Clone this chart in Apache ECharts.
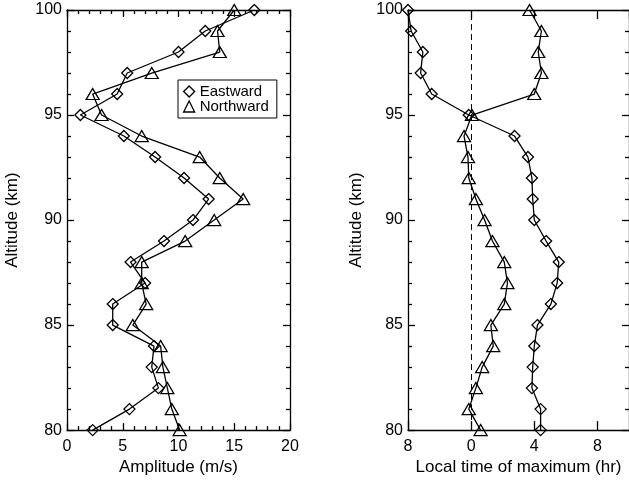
<!DOCTYPE html>
<html>
<head>
<meta charset="utf-8">
<script src="https://cdn.jsdelivr.net/npm/echarts@6/dist/echarts.min.js"></script>
<style>
html,body{margin:0;padding:0;background:#fff;}
#chart{width:629px;height:481px;}
</style>
</head>
<body>
<div id="chart"></div>
<script>
// Altitudes (km), bottom to top
var altitudes = [80,81,82,83,84,85,86,87,88,89,90,91,92,93,94,95,96,97,98,99,100];
// Amplitude (m/s)
var ampEast  = [2.3,5.6,8.2,7.6,7.8,4.1,4.1,7.0,5.7,8.7,11.3,12.7,10.5,7.9,5.1,1.2,4.5,5.4,10.0,12.4,16.8];
var ampNorth = [10.1,9.4,9.0,8.6,8.4,5.9,7.1,6.7,6.7,10.6,13.2,15.8,13.7,11.9,6.7,3.1,2.3,7.6,13.7,13.5,15.0];
// Local time of maximum (hr)
var phaseEast  = [4.4,4.4,3.85,3.9,4.0,4.2,5.05,5.45,5.55,4.75,4.0,3.9,3.85,3.6,2.75,-0.15,-2.5,-3.2,-3.06,-3.8,-4.0];
var phaseNorth = [0.6,-0.15,0.3,0.7,1.4,1.25,2.1,2.3,2.1,1.35,0.85,0.3,-0.15,-0.2,-0.45,0.05,4.0,4.45,4.25,4.45,3.7];
var seriesNames = ['Eastward','Northward'];

function pairs(xs){ return xs.map(function(v,i){ return [v, altitudes[i]]; }); }

var FONT = 'Liberation Sans';
var black = '#000';
var LW = 1.3;

function xAx(grid, pos, opts){
  var a = {
    type:'value', gridIndex:grid, position:pos,
    min:opts.min, max:opts.max, interval:opts.interval,
    axisLine:{show:true, onZero:false, lineStyle:{color:black, width:LW}},
    axisTick:{show:true, inside:true, length:opts.tickLen, lineStyle:{color:black,width:LW}},
    minorTick:{show:opts.minor, splitNumber:opts.minorSplit||5, length:4, lineStyle:{color:black,width:LW}},
    splitLine:{show:false},
    axisLabel:{show:pos==='bottom', color:black, fontFamily:FONT, fontSize:16, margin:8,
      formatter:opts.formatter, showMaxLabel: opts.showMax!==false},
  };
  if(pos==='bottom' && opts.name){
    a.name = opts.name; a.nameLocation='middle'; a.nameGap=opts.nameGap;
    a.nameTextStyle={color:black, fontFamily:FONT, fontSize:17};
  }
  return a;
}
function yAx(grid, pos, nameGap){
  var a = {
    type:'value', gridIndex:grid, position:pos,
    min:80, max:100, interval:5,
    axisLine:{show:true, onZero:false, lineStyle:{color:black,width:LW}},
    axisTick:{show:true, inside:true, length:7, lineStyle:{color:black,width:LW}},
    minorTick:{show:true, splitNumber:5, length:4, lineStyle:{color:black,width:LW}},
    splitLine:{show:false},
    axisLabel:{show:pos==='left', color:black, fontFamily:FONT, fontSize:16, margin:5}
  };
  if(pos==='left'){
    a.name='Altitude (km)'; a.nameLocation='middle'; a.nameGap=nameGap;
    a.nameTextStyle={color:black, fontFamily:FONT, fontSize:17};
  }
  return a;
}

var markerStyle = {color:'rgba(0,0,0,0)', borderColor:black, borderWidth:1.3};
function ser(name, xi, yi, xs, extra){
  var s = {
    name:name, type:'line', xAxisIndex:xi, yAxisIndex:yi,
    data:pairs(xs),
    symbol: name==='Eastward' ? 'diamond' : 'triangle',
    symbolSize: name==='Eastward' ? [11,11] : [13,11],
    itemStyle: markerStyle,
    lineStyle:{color:black, width:LW},
    showAllSymbol:true, clip:true, animation:false, z:3
  };
  if(extra){ for(var k in extra) s[k]=extra[k]; }
  return s;
}

var option = {
  backgroundColor:'#fff',
  animation:false,
  textStyle:{fontFamily:FONT},
  grid:[
    {left:67, top:10, width:223, height:422},
    {left:408, top:10, width:223, height:422}
  ],
  xAxis:[
    xAx(0,'bottom',{min:0,max:20,interval:5,tickLen:7,minor:true,name:'Amplitude (m/s)',nameGap:25}),
    xAx(0,'top',{min:0,max:20,interval:5,tickLen:7,minor:true}),
    xAx(1,'bottom',{min:-4,max:10,interval:4,tickLen:9,minor:false,name:'Local time of maximum (hr)',nameGap:25,
      showMax:false,
      formatter:function(v){ if(v>8) return ''; return String(((v%12)+12)%12); }}),
    xAx(1,'top',{min:-4,max:10,interval:4,tickLen:9,minor:false})
  ],
  yAxis:[
    yAx(0,'left',46), yAx(0,'right'),
    yAx(1,'left',43), yAx(1,'right')
  ],
  legend:{
    show:true, orient:'vertical', left:178, top:80,
    padding:[4,8,4,5], itemGap:0, itemWidth:11, itemHeight:11,
    backgroundColor:'#fff', borderColor:black, borderWidth:1, borderRadius:0,
    textStyle:{color:black, fontFamily:FONT, fontSize:15},
    data:[
      {name:seriesNames[0], icon:'diamond', itemStyle:markerStyle},
      {name:seriesNames[1], icon:'triangle', itemStyle:markerStyle}
    ]
  },
  series:[
    ser(seriesNames[0],0,0,ampEast),
    ser(seriesNames[1],0,0,ampNorth),
    ser(seriesNames[0],2,2,phaseEast,{
      markLine:{silent:true, symbol:['none','none'], label:{show:false},
        lineStyle:{color:black, width:1, type:[6,4]},
        data:[{xAxis:0}]}
    }),
    ser(seriesNames[1],2,2,phaseNorth)
  ]
};

var chart = echarts.init(document.getElementById('chart'), null, {renderer:'canvas'});
chart.setOption(option);
</script>
</body>
</html>
